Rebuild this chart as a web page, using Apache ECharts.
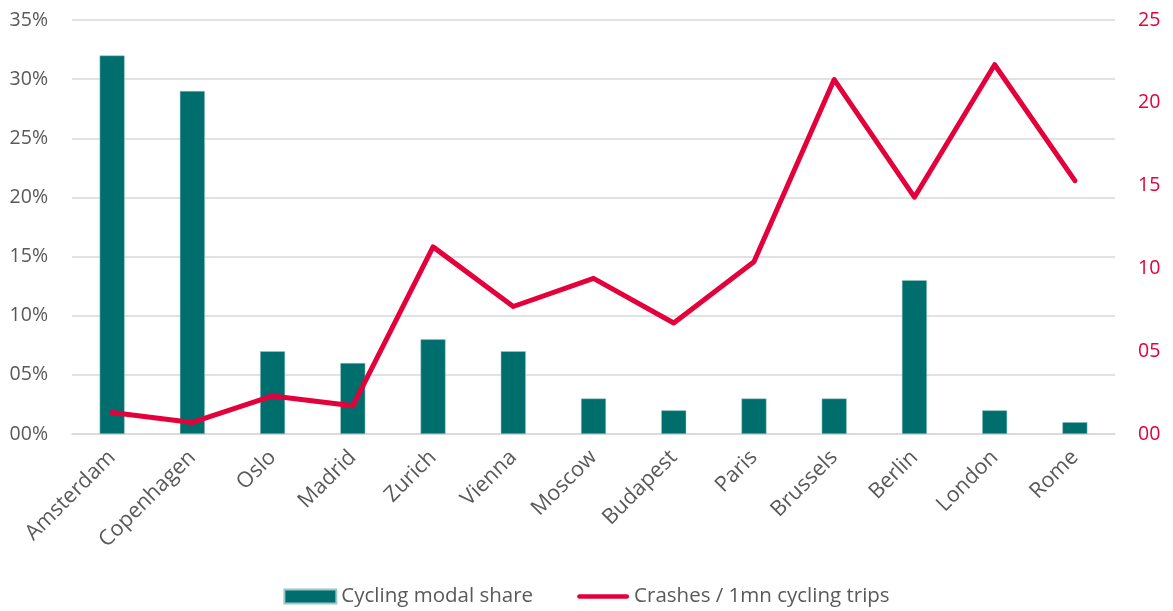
<!DOCTYPE html>
<html>
<head>
<meta charset="utf-8">
<script src="https://cdn.jsdelivr.net/npm/echarts@6/dist/echarts.min.js"></script>
<style>
  html, body { margin: 0; padding: 0; background: #fff; }
  #chart { width: 1173px; height: 611px; }
</style>
</head>
<body>
<div id="chart"></div>
<script>
// city list and the two series
const cities = ['Amsterdam', 'Copenhagen', 'Oslo', 'Madrid', 'Zurich', 'Vienna', 'Moscow',
  'Budapest', 'Paris', 'Brussels', 'Berlin', 'London', 'Rome'];
const modalShare = [32, 29, 7, 6, 8, 7, 3, 2, 3, 3, 13, 2, 1];          // %
const crashes = [1.3, 0.7, 2.3, 1.7, 11.3, 7.7, 9.4, 6.7, 10.4, 21.4, 14.3, 22.3, 15.3];

const pad2 = v => (v < 10 ? '0' : '') + v;

const chart = echarts.init(document.getElementById('chart'));
const font = 'Open Sans';

chart.setOption({
  animation: false,
  textStyle: { fontFamily: font },
  grid: { left: 72, right: 58, top: 20, bottom: 177 },
  legend: {
    bottom: -1,
    left: 'center',
    itemGap: 44,
    itemWidth: 52,
    itemHeight: 14,
    symbolKeepAspect: true,
    textStyle: { fontSize: 20.5, color: '#595959', fontFamily: font },
    data: [
      { name: 'Cycling modal share', icon: 'rect' },
      {
        name: 'Crashes / 1mn cycling trips',
        // thin rounded bar standing in for the line swatch
        icon: 'path://M2.5,0 H53.5 A2.5,2.5 0 0 1 53.5,5 H2.5 A2.5,2.5 0 0 1 2.5,0 Z',
        itemStyle: { color: '#e4003a' }
      }
    ]
  },
  xAxis: {
    type: 'category',
    data: cities,
    axisTick: { show: false },
    axisLine: { lineStyle: { color: '#d9d9d9', width: 1.5 } },
    axisLabel: { rotate: 45, fontSize: 21.5, color: '#595959', margin: 20, interval: 0 }
  },
  yAxis: [
    {
      type: 'value',
      min: 0, max: 35, interval: 5,
      axisLine: { show: false },
      axisTick: { show: false },
      splitLine: { lineStyle: { color: '#d9d9d9', width: 1.5 } },
      axisLabel: { fontSize: 19.5, color: '#595959', margin: 24, formatter: v => pad2(v) + '%' }
    },
    {
      type: 'value',
      min: 0, max: 25, interval: 5,
      axisLine: { show: false },
      axisTick: { show: false },
      splitLine: { show: false },
      axisLabel: { fontSize: 19.5, color: '#e4003a', margin: 23, formatter: v => pad2(v) }
    }
  ],
  series: [
    {
      name: 'Cycling modal share',
      type: 'bar',
      data: modalShare,
      barWidth: 25,
      itemStyle: { color: '#016e6e', borderColor: '#9cc8c8', borderWidth: 0.5 }
    },
    {
      name: 'Crashes / 1mn cycling trips',
      type: 'line',
      yAxisIndex: 1,
      data: crashes,
      symbol: 'none',
      lineStyle: { color: '#e4003a', width: 5, cap: 'round', join: 'round' },
      itemStyle: { color: '#e4003a' }
    }
  ]
});
</script>
</body>
</html>
